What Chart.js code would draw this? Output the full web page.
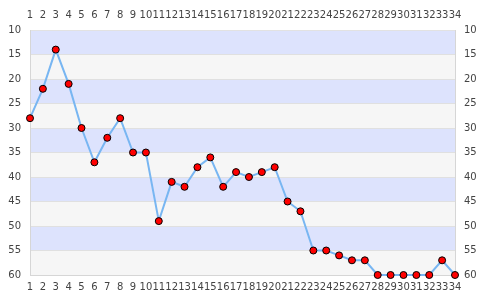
<!DOCTYPE html>
<html>
<head>
<meta charset="utf-8">
<script src="https://cdn.jsdelivr.net/npm/chart.js@4/dist/chart.umd.min.js"></script>
<style>
html,body{margin:0;padding:0;background:#fff;}
#wrap{width:485px;height:300px;position:relative;}
</style>
</head>
<body>
<div id="wrap"><canvas id="c" width="485" height="300"></canvas></div>
<script>
const categories = ["1","2","3","4","5","6","7","8","9","10","11","12","13","14","15","16","17","18","19","20","21","22","23","24","25","26","27","28","29","30","31","32","33","34"];
const positions = [28,22,14,21,30,37,32,28,35,35,49,41,42,38,36,42,39,40,39,38,45,47,55,55,56,57,57,60,60,60,60,60,57,60];
const yTicks = [10,15,20,25,30,35,40,45,50,55,60];

const bandPlugin = {
  id: 'bands',
  beforeDraw(chart) {
    const {ctx, chartArea, scales} = chart;
    const y = scales.y;
    ctx.save();
    for (let i = 0; i < yTicks.length - 1; i++) {
      const a = y.getPixelForValue(yTicks[i]);
      const b = y.getPixelForValue(yTicks[i + 1]);
      ctx.fillStyle = (i % 2 === 0) ? '#dde3fd' : '#f6f6f6';
      ctx.fillRect(chartArea.left, Math.min(a, b), chartArea.right - chartArea.left, Math.abs(b - a));
    }
    ctx.restore();
  }
};

const tickFont = {family: 'DejaVu Sans', size: 10};
const tickColor = '#444';

new Chart(document.getElementById('c'), {
  type: 'line',
  data: {
    labels: categories,
    datasets: [{
      data: positions,
      borderColor: '#78b6f2',
      borderWidth: 2,
      tension: 0,
      fill: false,
      pointRadius: 3.5,
      pointBackgroundColor: '#ff0000',
      pointBorderColor: '#000',
      pointBorderWidth: 1,
      clip: false
    }]
  },
  options: {
    responsive: false,
    animation: false,
    events: [],
    layout: {padding: 0},
    plugins: {legend: {display: false}, tooltip: {enabled: false}},
    scales: {
      x: {
        position: 'bottom',
        offset: false,
        grid: {display: false, drawTicks: false},
        border: {display: true, color: '#d6d6d6'},
        ticks: {font: tickFont, color: tickColor, padding: 6, maxRotation: 0, autoSkip: false},
        afterFit(s) { s.height = 25; }
      },
      x2: {
        position: 'top',
        type: 'category',
        labels: categories,
        offset: false,
        grid: {display: false, drawTicks: false},
        border: {display: true, color: '#e2e2e2'},
        ticks: {font: tickFont, color: tickColor, padding: 9, maxRotation: 0, autoSkip: false},
        afterFit(s) { s.height = 30; }
      },
      y: {
        position: 'left',
        reverse: true,
        min: 10,
        max: 60,
        afterBuildTicks(s) { s.ticks = yTicks.map(v => ({value: v})); },
        grid: {color: '#e0e0e0', drawTicks: false},
        border: {display: true, color: '#d6d6d6'},
        ticks: {font: tickFont, color: tickColor, padding: 9},
        afterFit(s) { s.width = 30; }
      },
      y2: {
        position: 'right',
        reverse: true,
        min: 10,
        max: 60,
        afterBuildTicks(s) { s.ticks = yTicks.map(v => ({value: v})); },
        grid: {display: false, drawTicks: false},
        border: {display: true, color: '#d6d6d6'},
        ticks: {font: tickFont, color: tickColor, padding: 9},
        afterFit(s) { s.width = 30; }
      }
    }
  },
  plugins: [bandPlugin]
});
</script>
</body>
</html>
